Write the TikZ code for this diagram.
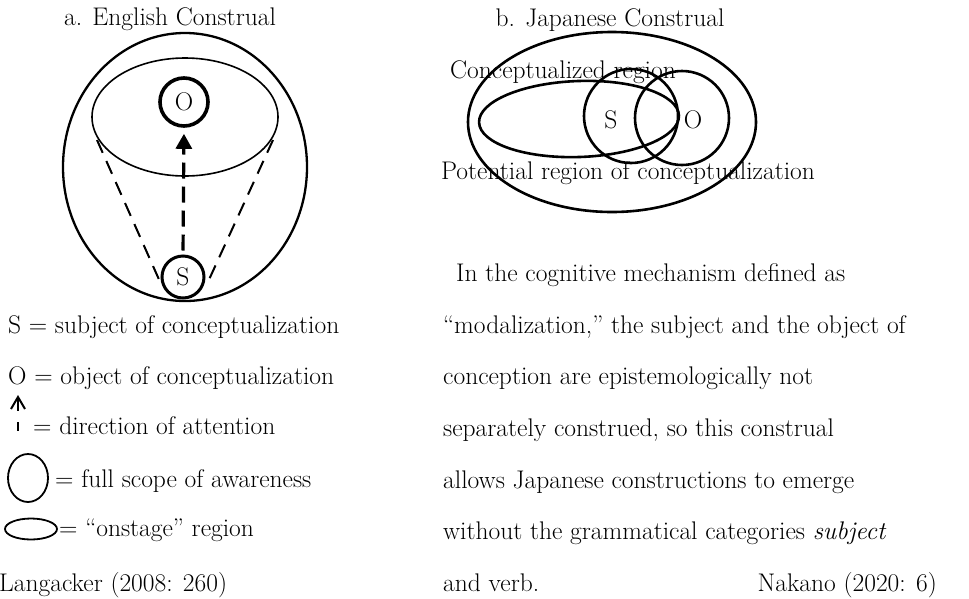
\documentclass[tikz,border=0pt]{standalone}
\usetikzlibrary{arrows.meta}
\begin{document}
\begin{tikzpicture}[x=1pt,y=-1pt,
  txt/.style={inner sep=0pt, font=\fontsize{25.5}{30}\selectfont, text height=18pt, text depth=5pt},
  lw/.style={txt, anchor=west},
  thinring/.style={draw=black, line width=1.6pt},
  ring/.style={draw=black, line width=2.3pt},
  rightring/.style={draw=black, line width=2.6pt},
  dashline/.style={draw=black, line width=2pt, dash pattern=on 14pt off 9pt},
  attn/.style={draw=black, line width=3.2pt, dash pattern=on 16pt off 8pt}
]
\useasboundingbox (0,0) rectangle (969,598);

% ---------- a. English construal ----------
\node[txt] (ta) at (170,19) {a. English Construal};
\draw[ring] (185,167) ellipse [x radius=122pt, y radius=134pt];
\draw[thinring] (185,117) ellipse [x radius=93pt, y radius=59pt];
\node[txt, circle, draw, line width=3.6pt, minimum size=48pt, text height=, text depth=] (Oa) at (184,102) {O};
\node[txt, circle, draw, line width=3pt, minimum size=42pt, text height=, text depth=, fill=white] (Sa) at (183,277) {S};
\coordinate (eL) at (97,140);
\coordinate (eR) at (273,140);
\coordinate (sL) at (161,284);
\coordinate (sR) at (207,284);
\draw[dashline] (eL) -- (sL);
\draw[dashline] (eR) -- (sR);
\draw[attn, -{Triangle[length=15pt,width=16pt,sep=0pt]}, shorten >=6pt, shorten <=4pt] (Sa.north) -- (Oa.south);

% ---------- legend ----------
\node[lw] (l1) at (8,327) {S = subject of conceptualization};
\node[lw] (l2) at (8,378) {O = object of conceptualization};
\coordinate (arT) at (18,397);
\coordinate (arB) at (18,411);
\draw[line width=2pt] (11,409) -- (arT) -- (25,409);
\draw[line width=2pt] (arT) -- (arB);
\coordinate (dT) at (18,422);
\coordinate (dB) at (18,431);
\draw[line width=2.4pt] (dT) -- (dB);
\node[lw] (l3) at (33,428) {= direction of attention};
\draw[line width=1.8pt] (28,478) ellipse [x radius=20pt, y radius=24pt];
\node[lw] (l4) at (55,481) {= full scope of awareness};
\draw[line width=1.8pt] (31,529) ellipse [x radius=26pt, y radius=10.5pt];
\node[lw] (l5) at (59,530) {= ``onstage'' region};
\node[lw] (l6) at (-1,585) {Langacker (2008: 260)};

% ---------- b. Japanese construal ----------
\node[txt] (tb) at (610,20) {b. Japanese Construal};
\draw[rightring] (612,122) ellipse [x radius=144pt, y radius=90pt];
\draw[rightring, rotate around={2:(579,119)}] (579,119) ellipse [x radius=100pt, y radius=38pt];
\draw[rightring] (631,116) circle [radius=47pt];
\draw[rightring] (682,118) circle [radius=47pt];
\node[txt] (Sb) at (611,122) {S};
\node[txt] (Ob) at (693,122) {O};
\node[txt] (cr) at (563,72) {Conceptualized region};
\node[txt] (pr) at (628,173) {Potential region of conceptualization};

% ---------- paragraph ----------
\node[lw] (p1) at (456,275) {In the cognitive mechanism defined as};
\node[lw] (p2) at (443,327) {``modalization,'' the subject and the object of};
\node[lw] (p3) at (443,378) {conception are epistemologically not};
\node[lw] (p4) at (443,430) {separately construed, so this construal};
\node[lw] (p5) at (443,482) {allows Japanese constructions to emerge};
\node[lw] (p6) at (443,533) {without the grammatical categories \textit{subject}};
\node[lw] (p7) at (443,585) {and verb.};
\node[txt, anchor=east] (nk) at (937,585) {Nakano (2020: 6)};
\end{tikzpicture}
\end{document}
